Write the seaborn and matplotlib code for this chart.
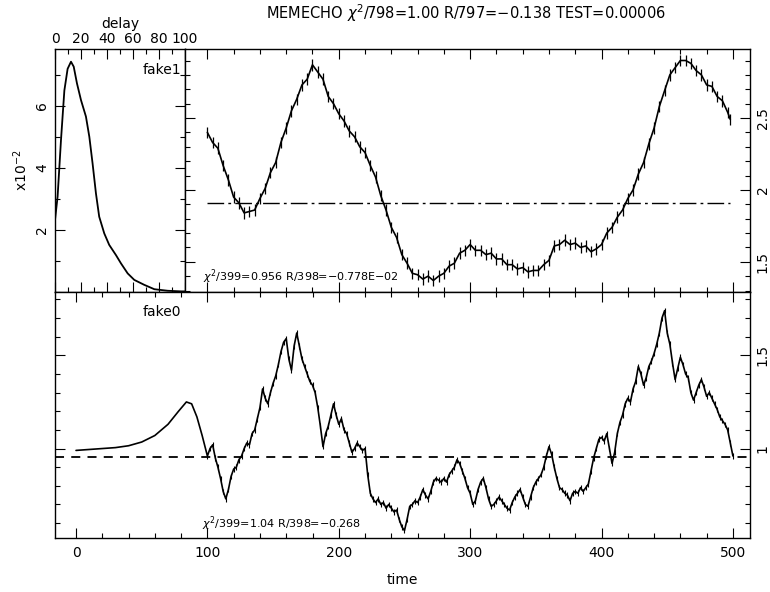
import matplotlib
matplotlib.use("Agg")
import matplotlib.pyplot as plt
import seaborn as sns
from matplotlib.ticker import MultipleLocator, FormatStrFormatter

# transfer function (delay distribution), units of 1e-2
delay = [0, 2, 4.6, 7.2, 9.7, 12.3, 14.4, 16.9, 20, 23.8, 26.4, 28.9, 31.5, 34,
         37.9, 41.7, 46.9, 50.8, 55.9, 61, 68.7, 76.4, 86.7, 97, 100]
psi = [2.32, 3.08, 4.9, 6.5, 7.2, 7.43, 7.27, 6.73, 6.19, 5.66, 5.01, 4.15, 3.18, 2.43,
       1.89, 1.52, 1.19, 0.92, 0.60, 0.39, 0.23, 0.09, 0.04, 0.02, 0.02]

# fake1 light curve (t = 100 ... 496 step 4, then 498)
t1 = list(range(100, 500, 4)) + [498]
f1 = [2.40, 2.33, 2.29, 2.17, 2.07, 1.95, 1.91, 1.84, 1.85, 1.86,
      1.94, 2.01, 2.12, 2.19, 2.33, 2.43, 2.55, 2.63, 2.73, 2.77,
      2.87, 2.82, 2.77, 2.65, 2.60, 2.53, 2.48, 2.41, 2.37, 2.30,
      2.26, 2.17, 2.09, 1.96, 1.86, 1.74, 1.67, 1.55, 1.49, 1.42,
      1.41, 1.38, 1.40, 1.37, 1.40, 1.42, 1.47, 1.49, 1.56, 1.58,
      1.62, 1.58, 1.58, 1.55, 1.56, 1.52, 1.52, 1.48, 1.48, 1.45,
      1.46, 1.43, 1.44, 1.44, 1.48, 1.51, 1.61, 1.62, 1.65, 1.62,
      1.63, 1.60, 1.61, 1.57, 1.59, 1.62, 1.70, 1.74, 1.81, 1.86,
      1.94, 2.00, 2.11, 2.19, 2.32, 2.43, 2.58, 2.69, 2.80, 2.85,
      2.90, 2.90, 2.88, 2.83, 2.80, 2.73, 2.72, 2.65, 2.62, 2.54, 2.49]
f1_err = 0.04
f1_mean = 1.91

# fake0: smooth model part then data part
t0 = [0, 10, 20, 30, 40, 50, 60, 70, 78, 84, 88, 92, 96] + list(range(100, 502, 2))
f0 = [0.99, 0.995, 1.00, 1.005, 1.015, 1.035, 1.07, 1.13, 1.20, 1.25, 1.24, 1.17, 1.07,
      0.96, 1.00, 1.02, 0.95, 0.90, 0.84, 0.77, 0.73, 0.78, 0.85,
      0.89, 0.90, 0.94, 0.96, 1.00, 1.03, 1.02, 1.08, 1.10, 1.16,
      1.22, 1.32, 1.27, 1.24, 1.30, 1.35, 1.39, 1.45, 1.52, 1.57,
      1.59, 1.48, 1.42, 1.55, 1.62, 1.55, 1.48, 1.44, 1.40, 1.36,
      1.34, 1.30, 1.22, 1.12, 1.01, 1.08, 1.12, 1.18, 1.24, 1.18,
      1.13, 1.16, 1.10, 1.08, 1.03, 0.98, 1.00, 1.03, 1.01, 0.99,
      1.00, 0.86, 0.76, 0.73, 0.71, 0.73, 0.70, 0.71, 0.68, 0.70,
      0.68, 0.66, 0.67, 0.62, 0.58, 0.56, 0.62, 0.69, 0.70, 0.72,
      0.71, 0.74, 0.78, 0.75, 0.73, 0.77, 0.82, 0.84, 0.83, 0.82,
      0.84, 0.82, 0.86, 0.88, 0.90, 0.94, 0.92, 0.88, 0.84, 0.79,
      0.76, 0.70, 0.72, 0.78, 0.82, 0.84, 0.79, 0.73, 0.69, 0.70,
      0.72, 0.74, 0.72, 0.70, 0.68, 0.67, 0.71, 0.74, 0.76, 0.78,
      0.74, 0.70, 0.69, 0.74, 0.79, 0.82, 0.84, 0.86, 0.90, 0.96,
      1.01, 0.97, 0.90, 0.84, 0.79, 0.78, 0.76, 0.75, 0.72, 0.76,
      0.77, 0.76, 0.79, 0.77, 0.79, 0.81, 0.88, 0.95, 1.00, 1.05,
      1.06, 1.04, 1.08, 1.00, 0.92, 0.98, 1.08, 1.14, 1.18, 1.24,
      1.27, 1.25, 1.32, 1.36, 1.44, 1.40, 1.34, 1.38, 1.44, 1.47,
      1.51, 1.56, 1.62, 1.70, 1.74, 1.62, 1.56, 1.46, 1.37, 1.43,
      1.49, 1.45, 1.40, 1.38, 1.30, 1.26, 1.30, 1.34, 1.37, 1.33,
      1.28, 1.30, 1.27, 1.24, 1.21, 1.17, 1.15, 1.13, 1.10, 1.03, 0.96]
n_model = 13
f0_err = 0.015
f0_mean = 0.957

sns.set_style("ticks")
plt.rcParams['font.family'] = ['DejaVu Sans']
plt.rcParams['font.size'] = 10
for key in ('text.color', 'axes.labelcolor', 'xtick.color', 'ytick.color', 'axes.edgecolor'):
    plt.rcParams[key] = 'black'

W, H = 770, 592
fig = plt.figure(figsize=(W / 100, H / 100), dpi=100)


def box(x0, y0, x1, y1):
    return [x0 / W, 1 - y1 / H, (x1 - x0) / W, (y1 - y0) / H]


ax_d = fig.add_axes(box(55, 49, 185, 292))
ax_1 = fig.add_axes(box(185, 49, 750, 292))
ax_0 = fig.add_axes(box(55, 292, 750, 538))

for ax in (ax_d, ax_1, ax_0):
    for s in ax.spines.values():
        s.set_linewidth(1.0)
        s.set_color('black')
    ax.tick_params(which='both', direction='in', top=True, bottom=True, left=True, right=True,
                   color='black', width=0.8)
    ax.tick_params(which='major', length=7)
    ax.tick_params(which='minor', length=3.5)

# delay panel
sns.lineplot(x=delay, y=psi, ax=ax_d, color='black', lw=1.3, sort=False)
ax_d.set_xlim(0, 100)
ax_d.set_ylim(0, 7.84)
ax_d.xaxis.set_major_locator(MultipleLocator(20))
ax_d.xaxis.set_minor_locator(MultipleLocator(10))
ax_d.yaxis.set_minor_locator(MultipleLocator(1))
ax_d.set_yticks([2, 4, 6])
ax_d.tick_params(labelbottom=False, labeltop=True, labelleft=True, labelright=False)
ax_d.tick_params(axis='y', labelrotation=90, pad=4)
for lab in ax_d.get_yticklabels():
    lab.set_va('center')
ax_d.tick_params(axis='x', pad=2)
ax_d.xaxis.set_label_position('top')
ax_d.set_xlabel('delay', labelpad=3)
ax_d.set_ylabel('x10$^{-2}$', labelpad=4)
fig.text(181 / W, 1 - 70 / H, 'fake1', ha='right', va='center', fontsize=10)

# fake1 panel
ax_1.errorbar(t1, f1, yerr=f1_err, fmt='none', ecolor='black', elinewidth=0.9)
sns.lineplot(x=t1, y=f1, ax=ax_1, color='black', lw=1.2, sort=False)
ax_1.plot([t1[0], t1[-1]], [f1_mean, f1_mean], color='black', lw=1.0, ls=(0, (12, 3, 2, 3)))
ax_1.set_xlim(83, 513)
ax_1.set_ylim(1.29, 2.98)
ax_1.xaxis.set_major_locator(MultipleLocator(100))
ax_1.xaxis.set_minor_locator(MultipleLocator(20))
ax_1.yaxis.set_major_locator(MultipleLocator(0.5))
ax_1.yaxis.set_minor_locator(MultipleLocator(0.1))
ax_1.yaxis.set_major_formatter(FormatStrFormatter('%g'))
ax_1.tick_params(labelbottom=False, labeltop=False, labelleft=False, labelright=True)
ax_1.tick_params(axis='y', labelrotation=90, pad=4)
for lab in ax_1.get_yticklabels():
    lab.set_va('center')
ax_1.text(0.032, 0.025, r'$\chi^2$/399=0.956 R/398=$-$0.778E$-$02', transform=ax_1.transAxes,
          fontsize=8, ha='left', va='bottom')

# fake0 panel
sns.lineplot(x=t0, y=f0, ax=ax_0, color='black', lw=1.2, sort=False)
ax_0.errorbar(t0[n_model:], f0[n_model:], yerr=f0_err, fmt='none', ecolor='black', elinewidth=0.8)
ax_0.axhline(f0_mean, color='black', lw=1.3, ls=(0, (5, 4)))
ax_0.set_xlim(-16, 513)
ax_0.set_ylim(0.52, 1.84)
ax_0.xaxis.set_major_locator(MultipleLocator(100))
ax_0.xaxis.set_minor_locator(MultipleLocator(20))
ax_0.yaxis.set_major_locator(MultipleLocator(0.5))
ax_0.yaxis.set_minor_locator(MultipleLocator(0.1))
ax_0.yaxis.set_major_formatter(FormatStrFormatter('%g'))
ax_0.tick_params(labelbottom=True, labeltop=False, labelleft=False, labelright=True)
ax_0.tick_params(axis='y', labelrotation=90, pad=4)
for lab in ax_0.get_yticklabels():
    lab.set_va('center')
ax_0.tick_params(axis='x', pad=6)
ax_0.set_xlabel('time', labelpad=9)
ax_0.text(0.212, 0.02, r'$\chi^2$/399=1.04 R/398=$-$0.268', transform=ax_0.transAxes,
          fontsize=8, ha='left', va='bottom')
fig.text(162 / W, 1 - 312 / H, 'fake0', ha='center', va='center', fontsize=10)

fig.text(466 / W, 1 - 13 / H, r'MEMECHO $\chi^2$/798=1.00 R/797=$-$0.138 TEST=0.00006',
         ha='center', va='center', fontsize=10.5)

fig.savefig('out.png', dpi=100)
